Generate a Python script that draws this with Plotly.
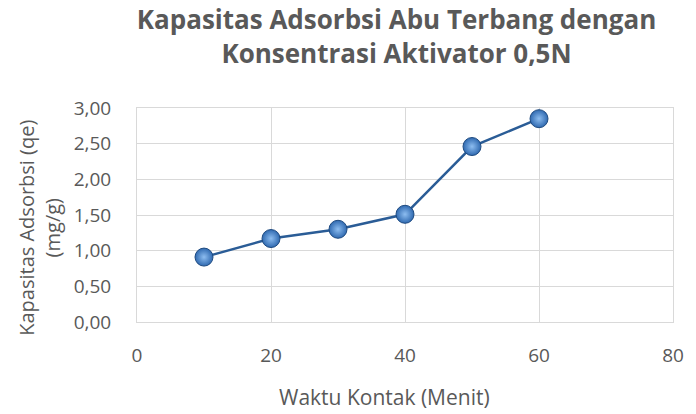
import plotly.graph_objects as go

waktu = [10, 20, 30, 40, 50, 60]
kapasitas = [0.91, 1.17, 1.30, 1.51, 2.46, 2.85]

title_text = "Kapasitas Adsorbsi Abu Terbang dengan<br>Konsentrasi Aktivator 0,5N"
x_title = "Waktu Kontak (Menit)"
y_title = "Kapasitas Adsorbsi (qe)<br>(mg/g)"

L, R, T, B = 137, 16, 108, 92
W, H = 696, 414
PW, PH = W - L - R, H - T - B

fig = go.Figure()
fig.add_trace(go.Scatter(
    x=waktu, y=kapasitas, mode="lines+markers",
    line=dict(color="#2A5C96", width=2.5),
    marker=dict(size=18, color="#2F69B0",
                gradient=dict(type="radial", color="#8DBDF0"),
                line=dict(color="#1E4A80", width=1)),
))

fig.update_layout(
    width=W, height=H,
    paper_bgcolor="white", plot_bgcolor="white",
    separators=",.",
    showlegend=False,
    margin=dict(l=L, r=R, t=T, b=B),
    font=dict(family="Open Sans", color="#595959"),
    title=dict(text=title_text, x=396.5 / W, xanchor="center", y=0.930, yanchor="middle",
               font=dict(size=26, color="#595959", family="Open Sans", weight="bold")),
    annotations=[
        dict(text=x_title, xref="paper", yref="paper", x=(388 - L) / PW, y=-75 / PH,
             xanchor="center", yanchor="middle", showarrow=False,
             font=dict(size=21, color="#595959")),
        dict(text=y_title, xref="paper", yref="paper", x=(37.5 - L) / PW, y=(H - B - 228) / PH,
             xanchor="center", yanchor="middle", showarrow=False, textangle=-90,
             font=dict(size=20, color="#595959")),
    ],
)
fig.update_xaxes(range=[0, 80], dtick=20, showgrid=True, gridcolor="#D9D9D9", gridwidth=1,
                 showline=True, linecolor="#D9D9D9", zeroline=False, mirror=True,
                 tickfont=dict(size=19, color="#595959"),
                 ticks="outside", ticklen=16, tickcolor="rgba(0,0,0,0)")
fig.update_yaxes(range=[0, 3], dtick=0.5, tickformat=".2f", showgrid=True, gridcolor="#D9D9D9",
                 gridwidth=1, showline=True, linecolor="#D9D9D9", mirror=True, zeroline=False,
                 tickfont=dict(size=19, color="#595959"),
                 ticks="outside", ticklen=21, tickcolor="rgba(0,0,0,0)")

fig.write_html("out.html", config={"displayModeBar": False, "responsive": False},
               post_script="document.body.style.margin='0';document.body.style.overflow='hidden';")
